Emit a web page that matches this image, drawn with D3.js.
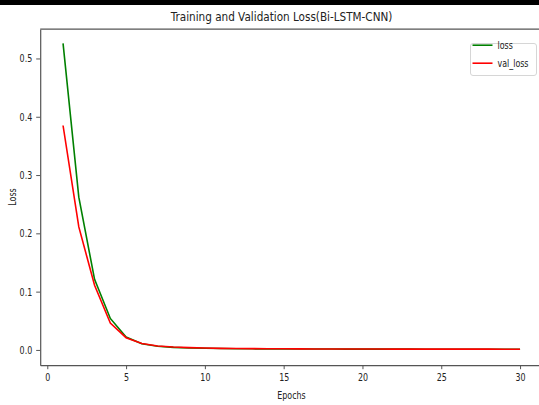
<!DOCTYPE html>
<html>
<head>
<meta charset="utf-8">
<script src="https://cdn.jsdelivr.net/npm/d3@7"></script>
<style>
  body { margin: 0; background: #fff; }
  text { font-family: "DejaVu Sans", sans-serif; fill: #222; }
</style>
</head>
<body>
<div id="chart"></div>
<script>
// data
var epochs = d3.range(1, 31);
var loss = [0.526, 0.262, 0.121, 0.054, 0.022, 0.0105, 0.0062, 0.0044, 0.0034, 0.0028,
            0.0024, 0.0021, 0.0019, 0.0018, 0.0017, 0.0016, 0.0015, 0.0015, 0.0014, 0.0014,
            0.0013, 0.0013, 0.0013, 0.0012, 0.0012, 0.0012, 0.0012, 0.0011, 0.0011, 0.0011];
var valLoss = [0.385, 0.211, 0.111, 0.046, 0.021, 0.011, 0.0068, 0.0049, 0.0039, 0.0032,
               0.0027, 0.0024, 0.0022, 0.0020, 0.0019, 0.0018, 0.0017, 0.0016, 0.0016, 0.0015,
               0.0015, 0.0014, 0.0014, 0.0014, 0.0013, 0.0013, 0.0013, 0.0013, 0.0012, 0.0012];
var xTicks = [0, 5, 10, 15, 20, 25, 30];
var yTicks = [0.0, 0.1, 0.2, 0.3, 0.4, 0.5];
var seriesNames = ['loss', 'val_loss'];
var seriesColors = ['green', 'red'];

//constants
var width = 539,
	height = 405,
	plot = {left: 40.2, right: 542.9, top: 29.2, bottom: 365.2},
	squeeze = 0.72;

var svg = d3.select('#chart')
	.append('svg')
	.attr('width', width)
	.attr('height', height);

// black strip across the top of the screenshot
svg.append('rect').attr('x', 0).attr('y', 0).attr('width', width).attr('height', 5).attr('fill', '#000');

var x = d3.scaleLinear().domain([-0.45, 31.45]).range([plot.left, plot.right]);
var y = d3.scaleLinear().domain([-0.0262, 0.5502]).range([plot.bottom, plot.top]);

// squash text horizontally like the reference
var squash = function(sel, k){
	sel.each(function(){
		var w = this.getComputedTextLength();
		d3.select(this).attr('textLength', w * k).attr('lengthAdjust', 'spacingAndGlyphs');
	});
};

// axes
var xAxis = svg.append('g')
	.attr('transform', 'translate(0,' + plot.bottom + ')')
	.call(d3.axisBottom(x).tickValues(xTicks).tickFormat(d3.format('d')).tickSize(4).tickPadding(4).tickSizeOuter(0));
var yAxis = svg.append('g')
	.attr('transform', 'translate(' + plot.left + ',0)')
	.call(d3.axisLeft(y).tickValues(yTicks).tickFormat(d3.format('.1f')).tickSize(4).tickPadding(4).tickSizeOuter(0));

[xAxis, yAxis].forEach(function(a){
	a.select('.domain').attr('stroke', '#555').attr('stroke-width', 1.2);
	a.selectAll('.tick line').attr('stroke', '#555');
	a.selectAll('.tick text').attr('font-size', 11).attr('fill', '#2a2a2a').style('font-family', '"DejaVu Sans", sans-serif').call(squash, squeeze);
});

// top spine
svg.append('line').attr('x1', plot.left).attr('x2', plot.right).attr('y1', plot.top).attr('y2', plot.top)
	.attr('stroke', '#555').attr('stroke-width', 1.2);

// lines
var line = d3.line().x(function(d, i){ return x(epochs[i]); }).y(function(d){ return y(d); });
[loss, valLoss].forEach(function(s, i){
	svg.append('path')
		.attr('d', line(s))
		.attr('fill', 'none')
		.attr('stroke', seriesColors[i])
		.attr('stroke-width', 1.6);
});

// labels
svg.append('text').attr('x', 281.5).attr('y', 20.5).attr('text-anchor', 'middle')
	.attr('font-size', 12).text('Training and Validation Loss(Bi-LSTM-CNN)').call(squash, 0.87);
svg.append('text').attr('x', 291.5).attr('y', 398.5).attr('text-anchor', 'middle')
	.attr('font-size', 11).text('Epochs').call(squash, squeeze);
svg.append('text').attr('transform', 'translate(15.5,197) rotate(-90)').attr('text-anchor', 'middle')
	.attr('font-size', 11).text('Loss').call(squash, squeeze);

// legend
var legend = svg.append('g');
legend.append('rect').attr('x', 470.5).attr('y', 43.5).attr('width', 66).attr('height', 32).attr('rx', 2.5)
	.attr('fill', '#fff').attr('stroke', '#d6d6d6');
seriesNames.forEach(function(n, i){
	var ly = 45.2 + i * 18;
	legend.append('line').attr('x1', 472.5).attr('x2', 492.5).attr('y1', ly).attr('y2', ly)
		.attr('stroke', seriesColors[i]).attr('stroke-width', 1.6);
	// scaled with a transform so the box of the text stays inside the picture
	legend.append('text')
		.attr('transform', 'translate(497.5,' + (ly + 3.8) + ') scale(' + squeeze + ',1)')
		.attr('font-size', 11).text(n);
});
</script>
</body>
</html>
